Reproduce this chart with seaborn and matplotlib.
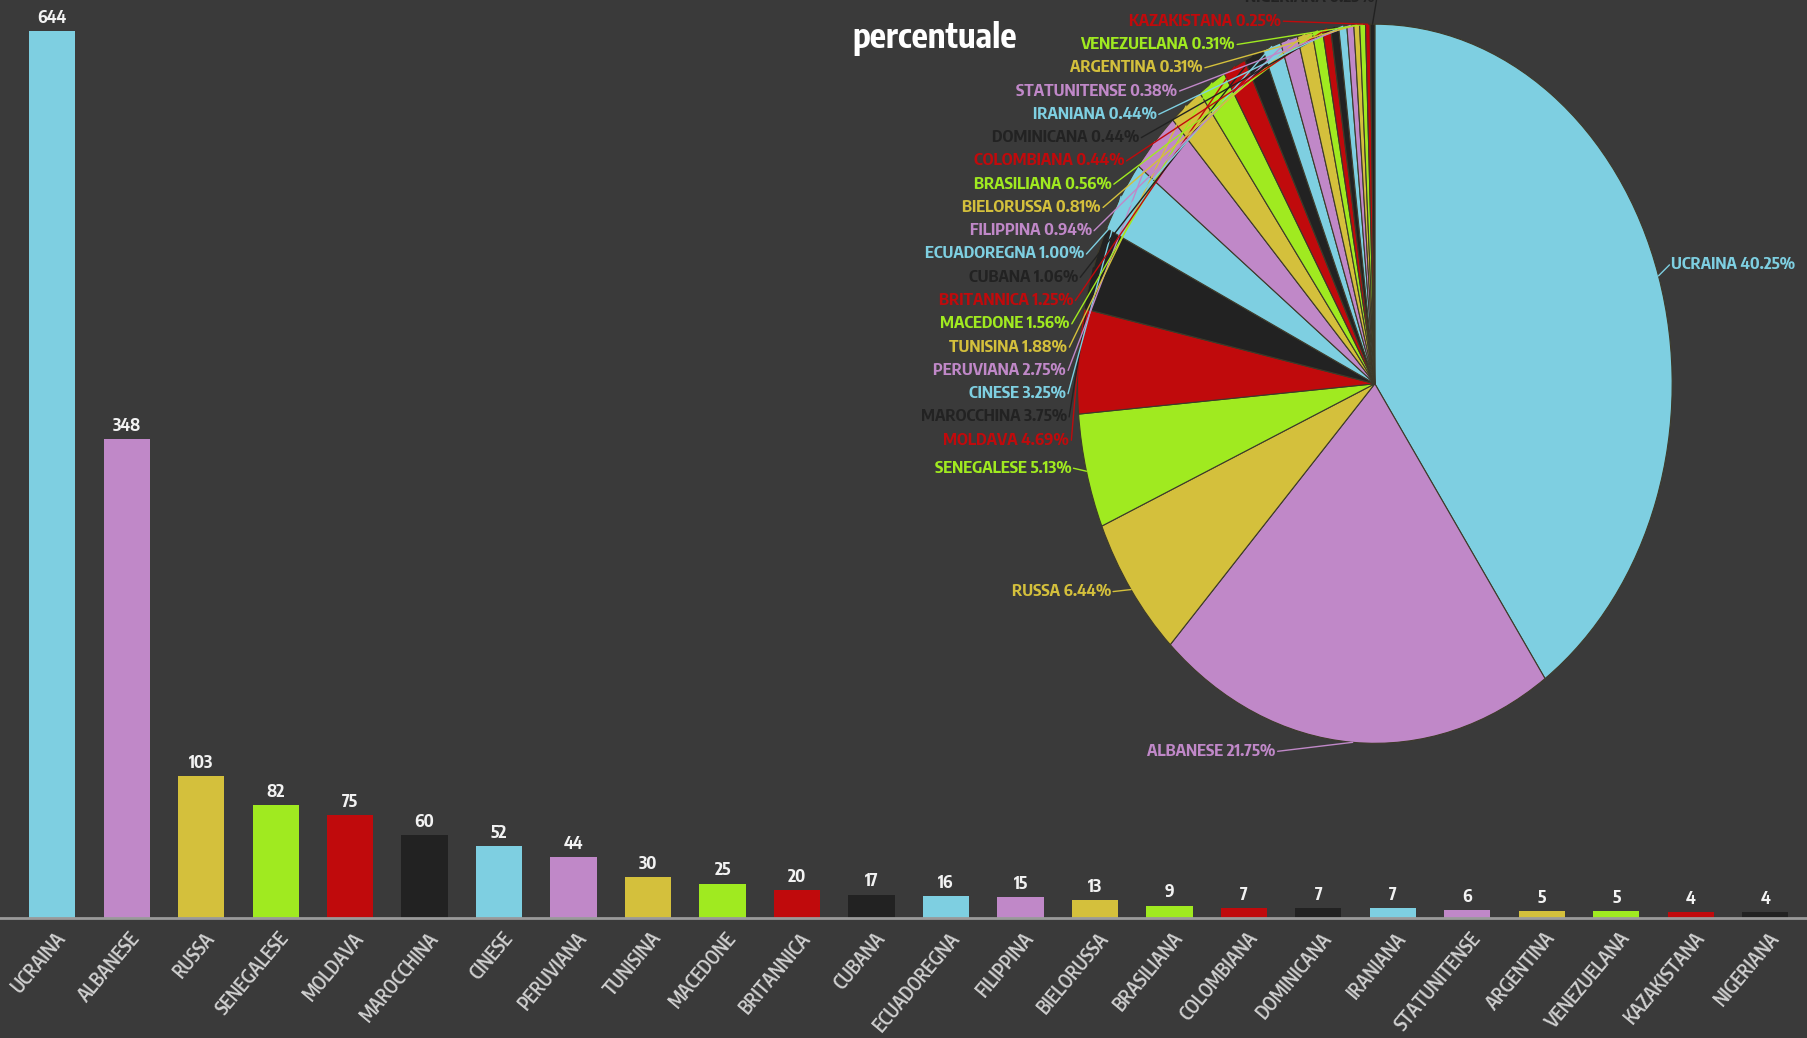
import numpy as np
import matplotlib
matplotlib.use("Agg")
import matplotlib.pyplot as plt
from matplotlib import font_manager
from matplotlib.transforms import ScaledTranslation
import seaborn as sns

categories = ["UCRAINA", "ALBANESE", "RUSSA", "SENEGALESE", "MOLDAVA", "MAROCCHINA",
              "CINESE", "PERUVIANA", "TUNISINA", "MACEDONE", "BRITANNICA", "CUBANA",
              "ECUADOREGNA", "FILIPPINA", "BIELORUSSA", "BRASILIANA", "COLOMBIANA",
              "DOMINICANA", "IRANIANA", "STATUNITENSE", "ARGENTINA", "VENEZUELANA",
              "KAZAKISTANA", "NIGERIANA"]
values = [644, 348, 103, 82, 75, 60, 52, 44, 30, 25, 20, 17, 16, 15, 13, 9, 7, 7, 7, 6, 5, 5, 4, 4]
percent_labels = ["40.25%", "21.75%", "6.44%", "5.13%", "4.69%", "3.75%", "3.25%", "2.75%",
                  "1.88%", "1.56%", "1.25%", "1.06%", "1.00%", "0.94%", "0.81%", "0.56%",
                  "0.44%", "0.44%", "0.44%", "0.38%", "0.31%", "0.31%", "0.25%", "0.25%"]
title_text = "percentuale"

BG = "#3a3a3a"
base_colors = ["#7ecfe1", "#c088c8", "#d4c03c", "#a0ea20", "#c00a0c", "#222222"]
colors = [base_colors[i % 6] for i in range(len(categories))]

sns.set_style("dark")

# pick a narrow font (preferably one with a bold face) if one is installed
def _w(f):
    w = f.weight
    if isinstance(w, str):
        return font_manager.weight_dict.get(w, 400)
    return w

entries = font_manager.fontManager.ttflist
narrow = [f for f in entries if ("Narrow" in f.name or "Condensed" in f.name)]
narrow_bold = [f for f in narrow if _w(f) >= 600 and f.style == "normal"]
STRETCH = "normal"
if narrow_bold:
    FAM = sorted(narrow_bold, key=lambda f: ("Sans" not in f.name, f.name))[0].name
elif narrow:
    FAM = narrow[0].name
elif any(f.name == "DejaVu Sans" and f.stretch == "condensed" for f in entries):
    FAM = "DejaVu Sans"
    STRETCH = "condensed"
else:
    FAM = "Roboto"
plt.rcParams["font.family"] = [FAM, "DejaVu Sans"]
plt.rcParams["font.stretch"] = STRETCH

W, H = 1807, 1038
fig = plt.figure(figsize=(W / 100, H / 100), dpi=100)
fig.patch.set_facecolor(BG)

# ---- bar chart ----
ax = fig.add_axes([0, 1 - 918 / H, 1, 918 / H])
ax.set_facecolor(BG)
sns.barplot(x=categories, y=values, hue=categories, palette=colors, legend=False,
            saturation=1, width=0.62, linewidth=0, edgecolor="none", ax=ax)
ax.set_xlim(-0.7, 23.56)
ax.set_ylim(0, 666.5)
ax.set_xlabel("")
ax.set_ylabel("")
ax.set_yticks([])
for sp in ["left", "right", "top"]:
    ax.spines[sp].set_visible(False)
ax.spines["bottom"].set_visible(True)
ax.spines["bottom"].set_color("#9a9a9a")
ax.spines["bottom"].set_linewidth(2)
ax.grid(False)
ax.set_xticks(range(len(categories)))
ax.set_xticklabels(categories, rotation=50, ha="right", rotation_mode="anchor",
                   color="#d0d0d0", fontsize=13.5, fontweight="semibold", va="center")
ax.tick_params(axis="x", length=0, pad=12)
shift = ScaledTranslation(10 / 100, 0, fig.dpi_scale_trans)
for lab in ax.get_xticklabels():
    lab.set_transform(lab.get_transform() + shift)
for c in ax.containers:
    ax.bar_label(c, padding=3, color="#f2f2f2", fontsize=12.5, fontweight="bold")

# ---- pie chart ----
s = 1807 / 1568
cx, cy, rx, ry = 1193 * s, 333 * s, 258 * s, 312 * s
pax = fig.add_axes([(cx - rx) / W, 1 - (cy + ry) / H, 2 * rx / W, 2 * ry / H])
pax.pie(values, colors=colors, startangle=90, counterclock=False,
        wedgeprops=dict(edgecolor="#3d3a2a", linewidth=0.8))
pax.set_xlim(-1, 1)
pax.set_ylim(-1, 1)
pax.set_aspect("auto")
pax.axis("off")

ov = fig.add_axes([0, 0, 1, 1])
ov.set_xlim(0, W)
ov.set_ylim(H, 0)
ov.axis("off")
ov.patch.set_alpha(0)

vals = np.array(values, dtype=float)
cum = np.cumsum(vals) - vals / 2
theta = 2 * np.pi * cum / vals.sum()
spacing = 20.2 * s
y_first = 382 * s
for i, (cat, pl, col) in enumerate(zip(categories, percent_labels, colors)):
    px = cx + rx * np.sin(theta[i])
    py = cy - ry * np.cos(theta[i])
    ha = "right"
    if i == 0:
        tx, ty, ha = px + 13, py - 11, "left"
    elif i == 1:
        tx, ty = px - 77, py + 9
    elif i == 2:
        tx, ty = px - 20, py + 2
    elif i == 3:
        tx, ty = px - 15, py - 3
    else:
        ty = y_first - (i - 4) * spacing
        q = (cy - ty) / (1.058 * ry)
        tx = cx - 1.039 * rx * np.sqrt(max(0.0, 1 - q * q))
    ex = tx - 2 if ha == "left" else tx + 2
    ov.plot([px, ex], [py, ty], color=col, lw=1, solid_capstyle="round")
    ov.text(tx, ty, f"{cat} {pl}", color=col, ha=ha, va="center",
            fontsize=12, fontweight="bold", clip_on=False)

fig.text(935 / W, 1 - 38 / H, title_text, color="white", fontsize=24.5,
         fontweight="bold", ha="center", va="center")

fig.savefig("out.png", dpi=100, facecolor=BG)
